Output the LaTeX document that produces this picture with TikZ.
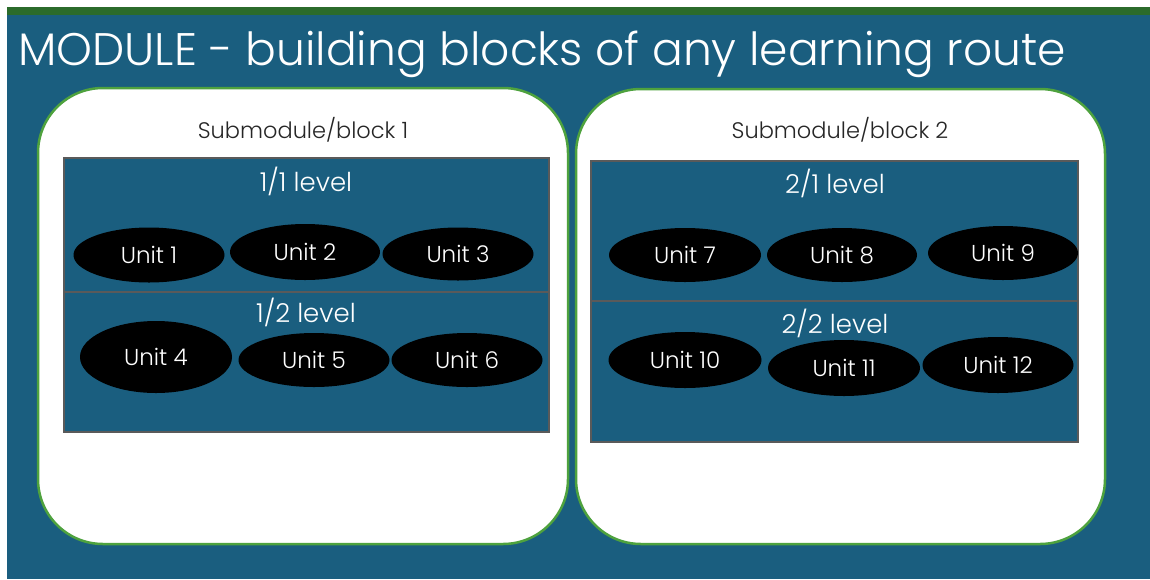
\documentclass[tikz,border=0pt]{standalone}
\usepackage{fontspec}
\IfFontExistsTF{Poppins Light}{\setmainfont{Poppins Light}}{\setmainfont{Poppins}}
\usetikzlibrary{shapes.geometric}
\definecolor{bgblue}{HTML}{1A5E7F}
\definecolor{topgreen}{HTML}{2B6B2B}
\definecolor{rimgreen}{HTML}{4EA23E}
\definecolor{levelgray}{HTML}{5A5A5A}
\tikzset{
  subbox/.style={draw=rimgreen, line width=2.5pt, fill=white, rounded corners=65pt,
    inner sep=0pt, rectangle},
  levelbox/.style={draw=levelgray, line width=2pt, fill=bgblue, rectangle, inner sep=0pt},
  unit/.style={ellipse, fill=black, inner sep=0pt, text=white,
    font=\fontsize{23}{26}\selectfont},
  lvltext/.style={text=white, inner sep=0pt, font=\fontsize{26}{30}\selectfont},
  subtext/.style={text=black!85, inner sep=0pt, font=\fontsize{22.5}{26}\selectfont},
}
\begin{document}
\begin{tikzpicture}[x=1pt, y=-1pt]
  % page, backdrop and top bar
  \fill[white] (0,0) rectangle (1150,579);
  \useasboundingbox (0,0) rectangle (1150,579);
  \fill[bgblue] (7,15) rectangle (1150,579);
  \fill[topgreen] (7,7) rectangle (1150,15);

  % heading
  \node[anchor=base west, text=white, inner sep=0pt,
        font=\fontsize{45.6}{50}\selectfont] (title) at (18,65)
        {MODULE - building blocks of any learning route};

  % submodule containers
  \node[subbox, minimum width=530pt, minimum height=456pt] (sub1) at (303,316) {};
  \node[subbox, minimum width=529pt, minimum height=455pt] (sub2) at (840.5,316.5) {};
  \node[subtext] (sub1t) at (303,130) {Submodule/block 1};
  \node[subtext] (sub2t) at (840,130) {Submodule/block 2};

  % levels of block 1
  \node[levelbox, minimum width=485pt, minimum height=134pt] (l11) at (306.5,225) {};
  \node[levelbox, minimum width=485pt, minimum height=140pt] (l12) at (306.5,362) {};
  \node[lvltext] (l11t) at (306,181) {1/1 level};
  \node[lvltext] (l12t) at (306,312) {1/2 level};

  % levels of block 2
  \node[levelbox, minimum width=487pt, minimum height=141pt] (l21) at (834.5,231) {};
  \node[levelbox, minimum width=487pt, minimum height=141pt] (l22) at (834.5,371.5) {};
  \node[lvltext] (l21t) at (835,183) {2/1 level};
  \node[lvltext] (l22t) at (835,323) {2/2 level};

  % units
  \node[unit, minimum width=151pt, minimum height=55pt] (u1) at (149,255) {Unit 1};
  \node[unit, minimum width=150pt, minimum height=56pt] (u2) at (305,252) {Unit 2};
  \node[unit, minimum width=151pt, minimum height=53pt] (u3) at (458,254) {Unit 3};
  \node[unit, minimum width=152pt, minimum height=72pt] (u4) at (156,357) {Unit 4};
  \node[unit, minimum width=151pt, minimum height=54pt] (u5) at (314,360) {Unit 5};
  \node[unit, minimum width=151pt, minimum height=54pt] (u6) at (467,360) {Unit 6};
  \node[unit, minimum width=152pt, minimum height=54pt] (u7) at (685,255) {Unit 7};
  \node[unit, minimum width=150pt, minimum height=54pt] (u8) at (842,255) {Unit 8};
  \node[unit, minimum width=150pt, minimum height=54pt] (u9) at (1003,253) {Unit 9};
  \node[unit, minimum width=153pt, minimum height=56pt] (u10) at (685,360) {Unit 10};
  \node[unit, minimum width=152pt, minimum height=56pt] (u11) at (844,368) {Unit 11};
  \node[unit, minimum width=151pt, minimum height=56pt] (u12) at (998,365) {Unit 12};
\end{tikzpicture}
\end{document}
